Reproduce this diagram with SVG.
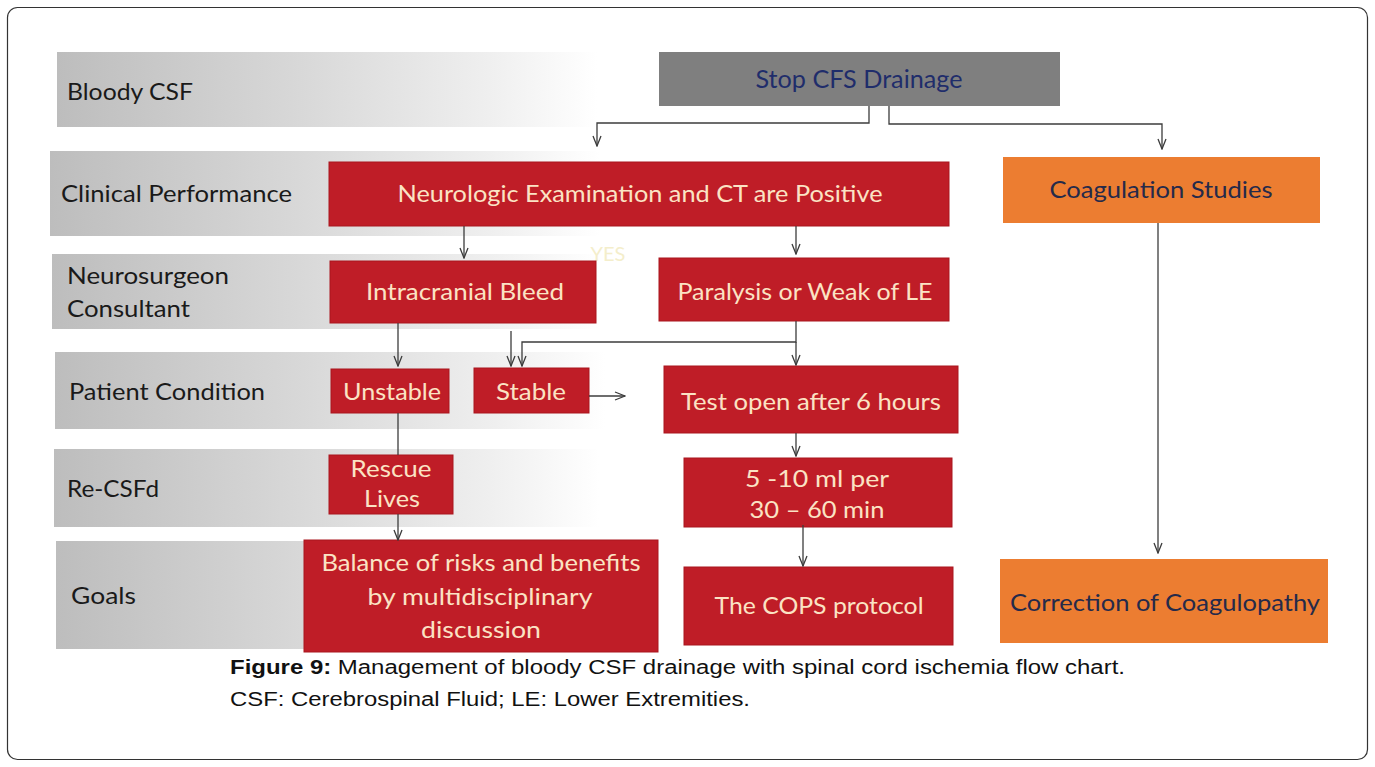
<svg xmlns="http://www.w3.org/2000/svg" width="1375" height="767" viewBox="0 0 1375 767">
<defs>
<linearGradient id="band" x1="0" y1="0" x2="1" y2="0">
<stop offset="0" stop-color="#bdbdbd"/>
<stop offset="0.45" stop-color="#d8d8d8"/>
<stop offset="0.8" stop-color="#efefef"/>
<stop offset="1" stop-color="#ffffff"/>
</linearGradient>
<marker id="arr" viewBox="0 0 12 10" refX="11" refY="5" markerWidth="12" markerHeight="10" markerUnits="userSpaceOnUse" orient="auto">
<path d="M1,1 L11,5 L1,9" fill="none" stroke="#3c3c3c" stroke-width="1.3"/>
</marker>
</defs>
<style>
.band{fill:url(#band)}
.lbl{font-family:Lato,"Open Sans","Liberation Sans",sans-serif;font-size:23px;fill:#1a1a1a}
.red{fill:#bf1d27;stroke:#a9161f;stroke-width:1}
.gray{fill:#7f7f7f}
.orange{fill:#ec7d31}
.rt{font-family:Lato,"Open Sans","Liberation Sans",sans-serif;font-size:24px;fill:#fbe3c4;text-anchor:middle}
.dt{font-family:Lato,"Open Sans","Liberation Sans",sans-serif;font-size:24px;fill:#252a4a;text-anchor:middle}
.conn{fill:none;stroke:#3c3c3c;stroke-width:1.3}
.cap{font-family:"Liberation Sans",Arial,sans-serif;font-size:20px;fill:#111}
</style>
<rect x="7.5" y="7.5" width="1360" height="752" rx="10" fill="#fff" stroke="#333" stroke-width="1.2"/>

<g id="band-bloody"><rect class="band" x="57" y="52" width="540" height="75"/><text class="lbl" x="67" y="100" textLength="126" lengthAdjust="spacingAndGlyphs">Bloody CSF</text></g>
<g id="band-clinical"><rect class="band" x="50" y="151" width="550" height="85"/><text class="lbl" x="61" y="202" textLength="231" lengthAdjust="spacingAndGlyphs">Clinical Performance</text></g>
<g id="band-neuro"><rect class="band" x="52" y="254" width="548" height="75"/><text class="lbl" x="67" y="284" textLength="162" lengthAdjust="spacingAndGlyphs">Neurosurgeon</text><text class="lbl" x="67" y="317" textLength="123" lengthAdjust="spacingAndGlyphs">Consultant</text></g>
<g id="band-patient"><rect class="band" x="55" y="352" width="550" height="77"/><text class="lbl" x="69" y="400" textLength="196" lengthAdjust="spacingAndGlyphs">Patient Condition</text></g>
<g id="band-recsfd"><rect class="band" x="54" y="449" width="545" height="78"/><text class="lbl" x="67" y="497" textLength="92" lengthAdjust="spacingAndGlyphs">Re-CSFd</text></g>
<g id="band-goals"><rect class="band" x="56" y="541" width="545" height="108"/><text class="lbl" x="71" y="604" textLength="65" lengthAdjust="spacingAndGlyphs">Goals</text></g>

<g id="stop"><rect class="gray" x="659" y="52" width="401" height="54"/><text class="dt" x="859" y="88" textLength="207" lengthAdjust="spacingAndGlyphs" style="fill:#1f2d6b;font-size:25px">Stop CFS Drainage</text></g>
<g id="neurologic"><rect class="red" x="329" y="162" width="620" height="64"/><text class="rt" x="640" y="202" textLength="485" lengthAdjust="spacingAndGlyphs">Neurologic Examination and CT are Positive</text></g>
<g id="coag-studies"><rect class="orange" x="1003" y="157" width="317" height="66"/><text class="dt" x="1161" y="198" textLength="223" lengthAdjust="spacingAndGlyphs">Coagulation Studies</text></g>
<g id="yes"><text x="608" y="261" font-family="Lato,'Open Sans',sans-serif" font-size="20" fill="#f4eecb" text-anchor="middle">YES</text></g>
<g id="intracranial"><rect class="red" x="330" y="261" width="266" height="62"/><text class="rt" x="465" y="300" textLength="198" lengthAdjust="spacingAndGlyphs">Intracranial Bleed</text></g>
<g id="paralysis"><rect class="red" x="659" y="258" width="290" height="63"/><text class="rt" x="805" y="300" textLength="255" lengthAdjust="spacingAndGlyphs">Paralysis or Weak of LE</text></g>
<g id="unstable"><rect class="red" x="331" y="369" width="118" height="44"/><text class="rt" x="392" y="400" textLength="98" lengthAdjust="spacingAndGlyphs">Unstable</text></g>
<g id="stable"><rect class="red" x="474" y="368" width="115" height="45"/><text class="rt" x="531" y="400" textLength="70" lengthAdjust="spacingAndGlyphs">Stable</text></g>
<g id="testopen"><rect class="red" x="664" y="366" width="294" height="67"/><text class="rt" x="811" y="410" textLength="260" lengthAdjust="spacingAndGlyphs">Test open after 6 hours</text></g>
<g id="rescue"><rect class="red" x="329" y="455" width="124" height="59"/><text class="rt" x="391" y="477" textLength="81" lengthAdjust="spacingAndGlyphs">Rescue</text><text class="rt" x="392" y="507" textLength="56" lengthAdjust="spacingAndGlyphs">Lives</text></g>
<g id="rate"><rect class="red" x="684" y="458" width="268" height="69"/><text class="rt" x="817" y="487" textLength="144" lengthAdjust="spacingAndGlyphs">5 -10 ml per</text><text class="rt" x="817" y="518" textLength="135" lengthAdjust="spacingAndGlyphs">30 – 60 min</text></g>
<g id="balance"><rect class="red" x="304" y="540" width="354" height="112"/><text class="rt" x="481" y="571" textLength="319" lengthAdjust="spacingAndGlyphs">Balance of risks and benefits</text><text class="rt" x="480" y="605" textLength="225" lengthAdjust="spacingAndGlyphs">by multidisciplinary</text><text class="rt" x="481" y="638" textLength="120" lengthAdjust="spacingAndGlyphs">discussion</text></g>
<g id="cops"><rect class="red" x="684" y="567" width="269" height="78"/><text class="rt" x="819" y="614" textLength="209" lengthAdjust="spacingAndGlyphs">The COPS protocol</text></g>
<g id="correction"><rect class="orange" x="1000" y="559" width="328" height="84"/><text class="dt" x="1165" y="611" textLength="310" lengthAdjust="spacingAndGlyphs">Correction of Coagulopathy</text></g>

<g id="connectors">
<path class="conn" d="M869,106 V123 H597 V146" marker-end="url(#arr)"/>
<path class="conn" d="M889,106 V124 H1162 V149" marker-end="url(#arr)"/>
<path class="conn" d="M464,226 V258" marker-end="url(#arr)"/>
<path class="conn" d="M796,226 V254" marker-end="url(#arr)"/>
<path class="conn" d="M398,323 V366" marker-end="url(#arr)"/>
<path class="conn" d="M511,331 V366" marker-end="url(#arr)"/>
<path class="conn" d="M796,321 V342 H522 V366" marker-end="url(#arr)"/>
<path class="conn" d="M796,342 V365" marker-end="url(#arr)"/>
<path class="conn" d="M589,396 H625" marker-end="url(#arr)"/>
<path class="conn" d="M398,413 V455"/>
<path class="conn" d="M796,433 V456" marker-end="url(#arr)"/>
<path class="conn" d="M398,514 V540" marker-end="url(#arr)"/>
<path class="conn" d="M803,525 V566" marker-end="url(#arr)"/>
<path class="conn" d="M1158,223 V553" marker-end="url(#arr)"/>
</g>

<g id="caption">
<text class="cap" x="230" y="674" textLength="895" lengthAdjust="spacingAndGlyphs"><tspan font-weight="bold">Figure 9:</tspan> Management of bloody CSF drainage with spinal cord ischemia flow chart.</text>
<text class="cap" x="230" y="706" textLength="520" lengthAdjust="spacingAndGlyphs">CSF: Cerebrospinal Fluid; LE: Lower Extremities.</text>
</g>
</svg>
